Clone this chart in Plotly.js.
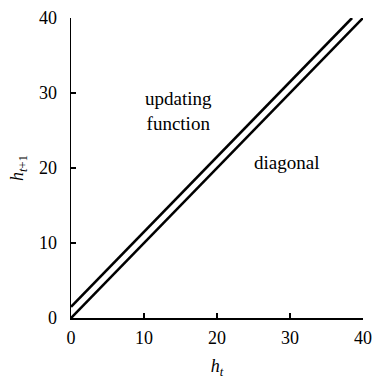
<!DOCTYPE html>
<html>
<head>
<meta charset="utf-8">
<script src="https://cdn.plot.ly/plotly-3.0.1.min.js"></script>
<style>html,body{margin:0;padding:0;background:#fff;}#chart{width:374px;height:381px;}</style>
</head>
<body>
<div id="chart"></div>
<script>
var diagX = [0, 40];
var diagY = [0, 40];
var updX = [0, 38.5];
var updY = [1.5, 40];
var tickVals = [0, 10, 20, 30, 40];
var tickText = ["0", "10", "20", "30", "40"];

var font = "Liberation Serif";

var traces = [
  {x: diagX, y: diagY, mode: "lines", line: {color: "#000", width: 2.6}, cliponaxis: false, hoverinfo: "skip"},
  {x: updX, y: updY, mode: "lines", line: {color: "#000", width: 2.6}, cliponaxis: false, hoverinfo: "skip"}
];

var layout = {
  width: 374, height: 381,
  margin: {l: 71, r: 11, t: 18, b: 63},
  showlegend: false,
  paper_bgcolor: "#fff", plot_bgcolor: "#fff",
  font: {family: font, color: "#000", size: 18},
  xaxis: {
    range: [0, 40], tickvals: tickVals, ticktext: tickText,
    ticks: "inside", ticklen: 5, tickwidth: 1.5, tickcolor: "#000",
    showline: true, linecolor: "#000", linewidth: 1.5,
    showgrid: false, zeroline: false,
    ticklabelstandoff: 3,
    tickfont: {family: font, size: 18},
    title: {text: "<i>h</i><sub><i>t</i></sub>", font: {family: font, size: 18}, standoff: 12}
  },
  yaxis: {
    range: [0, 40], tickvals: tickVals, ticktext: tickText,
    ticks: "inside", ticklen: 5, tickwidth: 1.5, tickcolor: "#000",
    showline: true, linecolor: "#000", linewidth: 1.5,
    showgrid: false, zeroline: false,
    ticklabelstandoff: 9,
    tickfont: {family: font, size: 18},
    title: {text: "<i>h</i><sub><i>t</i>+1</sub>", font: {family: font, size: 18}, standoff: 10}
  },
  annotations: [
    {x: 14.7, y: 27.6, xref: "x", yref: "y", text: "updating<br>function", showarrow: false,
     font: {family: font, size: 19}, align: "center"},
    {x: 29.5, y: 20.7, xref: "x", yref: "y", text: "diagonal", showarrow: false,
     font: {family: font, size: 19}, align: "center"}
  ]
};

Plotly.newPlot("chart", traces, layout, {staticPlot: true, displayModeBar: false});
</script>
</body>
</html>
